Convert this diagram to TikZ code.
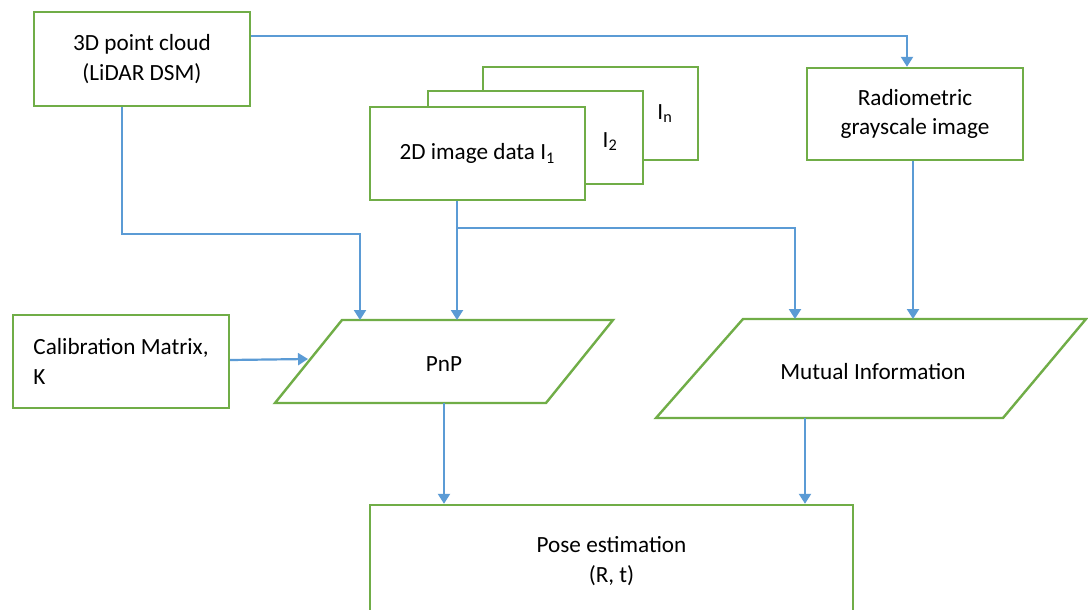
\documentclass[tikz,border=0pt]{standalone}
\usepackage{fontspec}
\setmainfont{Carlito}
\usetikzlibrary{arrows.meta,calc}
\definecolor{grn}{HTML}{70AD47}
\definecolor{blu}{HTML}{5B9BD5}
\newcommand\dfont{\fontsize{11.6pt}{14.6pt}\selectfont}
\begin{document}
\begin{tikzpicture}[x=0.5pt,y=-0.5pt,
  box/.style={draw=grn, line width=1.2pt, fill=white, inner sep=0pt, align=center, font=\dfont},
  para/.style={draw=grn, line width=1.2pt, fill=white},
  lbl/.style={font=\dfont, inner sep=0pt, align=center},
  arr/.style={draw=blu, line width=1.1pt, -{Triangle[length=5pt,width=6pt]}}]
\useasboundingbox (0,0) rectangle (1088,610);
\clip (0,0) rectangle (1088,610);
\fill[white] (0,0) rectangle (1088,610);

% boxes
\node[box, minimum width=108pt, minimum height=47pt] (cloud) at (142,59) {3D point cloud\\(LiDAR DSM)};
\node[box, minimum width=108pt, minimum height=46pt] (radio) at (915,114) {Radiometric\\grayscale image};
\node[box, minimum width=107.5pt, minimum height=46.5pt,
      label={[lbl, anchor=east, xshift=-13pt]east:I\textsubscript{n}}] (imgn) at (590.5,113.5) {};
\node[box, minimum width=107.5pt, minimum height=46.5pt,
      label={[lbl, anchor=east, xshift=-13pt, yshift=-2pt]east:I\textsubscript{2}}] (img2) at (535.5,137.5) {};
\node[box, minimum width=107.5pt, minimum height=46.5pt] (img1) at (477.5,153.5) {2D image data I\textsubscript{1}};
\node[box, minimum width=108pt, minimum height=46.5pt, align=left] (calib) at (121,361.5) {Calibration Matrix,\\K};
\node[box, minimum width=241.5pt, minimum height=56pt] (pose) at (611.5,561) {Pose estimation\\(R, t)};

% parallelograms
\draw[para] (342,320) -- (613,320) -- (546,403) -- (275,403) -- cycle;
\node[lbl] (pnp) at (444,364) {PnP};
\draw[para] (743,319) -- (1086,319) -- (1003,418) -- (656,418) -- cycle;
\node[lbl] (mi) at (873,372) {Mutual Information};

% named points on the parallelograms
\coordinate (p1) at (360,320);
\coordinate (p2) at (457,320);
\coordinate (p3) at (308,359);
\coordinate (p4) at (444,403);
\coordinate (m1) at (795,319);
\coordinate (m2) at (913,319);
\coordinate (m3) at (805,418);
\coordinate (t1) at (907,36);
\coordinate (cx) at (122,234);
\coordinate (jy) at (0,228);
\coordinate (cy) at (0,360);

% connectors
\draw[arr] (cloud.east |- t1) -- (t1) -- (t1 |- radio.north);
\draw[arr] (cloud.south -| cx) -- (cx) -- (cx -| p1) -- (p1);
\draw[arr] (img1.south -| p2) -- (p2);
\draw[arr] (p2 |- jy) -- (m1 |- jy) -- (m1);
\draw[arr] (radio.south -| m2) -- (m2);
\draw[arr] (calib.east |- cy) -- (p3);
\draw[arr] (p4) -- (pose.north -| p4);
\draw[arr] (m3) -- (pose.north -| m3);
\end{tikzpicture}
\end{document}
